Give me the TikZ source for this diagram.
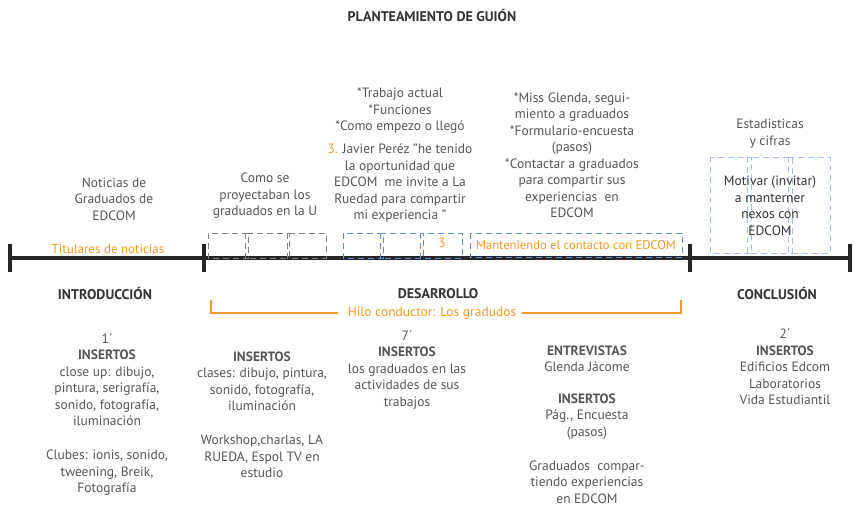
\documentclass[tikz,border=0pt]{standalone}
\usepackage{fontspec}
\setmainfont{PT Sans}
\usepackage{tikz}
\usetikzlibrary{calc}
\definecolor{textgray}{HTML}{555658}
\definecolor{naranja}{HTML}{F39A2B}
\definecolor{azul}{HTML}{5B8FD9}
\definecolor{azulclaro}{HTML}{A8C1E8}
\tikzset{eje/.style={line width=4.5pt, black!85}}
\tikzset{caja/.style={dash pattern=on 6pt off 4pt, line width=1pt}}
\tikzset{hilo line/.style={naranja, line width=1.3pt}}

\begin{document}
\begin{tikzpicture}[x=1pt, y=-1pt]
	% Default action for each node
	\tikzstyle{every node}=[inner sep=0pt, align=center, text=textgray, font=\fontsize{13.5}{16.5}\selectfont];
	\tikzstyle{seccion}=[text=black!80, font=\bfseries\fontsize{14}{16}\selectfont];
	\tikzstyle{resalte}=[text=naranja];

	\useasboundingbox (0,0) rectangle (854,506);

	\node[seccion] (titulo) at (432,16) {PLANTEAMIENTO DE GUIÓN};

	% Timeline
	\coordinate (t0) at (10,258);	\coordinate (t1) at (204,258);	\coordinate (t2) at (690,258);	\coordinate (t3) at (850,258);
	\draw[eje] (t0) -- (t3);
	\foreach \t in {t0,t1,t2,t3}
		\draw[eje] ([yshift=14pt]\t) -- ([yshift=-14pt]\t);

	% Dashed boxes
	\foreach \a/\b in {208/248, 245/289, 287/326}
		\draw[caja, black!50] (\a,233) rectangle (\b,258);
	\foreach \a/\b in {343/383, 380/423, 420/462}
		\draw[caja, azul] (\a,233) rectangle (\b,258);
	\draw[caja, azul] (470,233) rectangle (682,257);
	\foreach \a/\b in {710/751, 747/792, 788/830}
		\draw[caja, azulclaro] (\a,157) rectangle (\b,253);

	% Above the timeline
	\node (noticias) at (114,199) {Noticias de\\Graduados de\\EDCOM};
	\node (como) at (265,196) {Como se\\proyectaban los\\graduados en la U};
	\node (trabajo) at (400,111) {*Trabajo actual\\*Funciones\\*Como empezo o llegó};
	\node (javier) at (400,183) {{\color{naranja}3.} Javier Peréz "he tenido\\la oportunidad que\\EDCOM\ \ me invite a La\\Ruedad para compartir\\mi experiencia "};
	\node (glenda) at (572,155.5) {*Miss Glenda, segui-\\miento a graduados\\*Formulario-encuesta\\(pasos)\\*Contactar a graduados\\para compartir sus\\experiencias\ \ en\\EDCOM};
	\node (estadisticas) at (770,133.5) {Estadisticas\\y cifras};
	\node[text=black!80] (motivar) at (770,206) {Motivar (invitar)\\a manterner\\nexos con\\EDCOM};

	% On the timeline
	\node[resalte, font=\fontsize{13}{16}\selectfont] (titulares) at (108,249) {Titulares de noticias};
	\node[resalte] (tres) at (442,243) {3};
	\node[resalte, font=\fontsize{12.6}{16}\selectfont] (contacto) at (576,245) {Manteniendo el contacto con EDCOM};

	% Sections
	\node[seccion] (intro) at (105,294) {INTRODUCCIÓN};
	\node[seccion] (desarrollo) at (438,294) {DESARROLLO};
	\node[seccion] (conclusion) at (777,294) {CONCLUSIÓN};

	% Hilo conductor
	\coordinate (hiloL) at (211,300);	\node[resalte] (hilo) at (432,313) {Hilo conductor: Los gradudos};	\coordinate (hiloR) at (681,300);
	\draw[hilo line] (hiloL) |- ([xshift=-10pt]hilo.west);
	\draw[hilo line] (hiloR) |- ([xshift=6pt]hilo.east);

	% Below the timeline
	\node (insertos1) at (107,379.5) {1´\\\textbf{INSERTOS}\\close up: dibujo,\\pintura, serigrafía,\\sonido, fotografía,\\iluminación};
	\node (clubes) at (107,473) {Clubes: ionis, sonido,\\tweening, Breik,\\Fotografía};
	\node (insertos2) at (262,381.5) {\textbf{INSERTOS}\\clases: dibujo, pintura,\\sonido, fotografía,\\iluminación};
	\node (workshop) at (262,456.5) {Workshop,charlas, LA\\RUEDA, Espol TV en\\estudio};
	\node (insertos7) at (407,370) {7´\\\textbf{INSERTOS}\\los graduados en las\\actividades de sus\\trabajos};
	\node (entrevistas) at (587,359) {\textbf{ENTREVISTAS}\\Glenda Jácome};
	\node (insertospag) at (587,416.5) {\textbf{INSERTOS}\\Pág., Encuesta\\(pasos)};
	\node (compartiendo) at (587,482) {Graduados\ \ compar-\\tiendo experiencias\\en EDCOM};
	\node (insertos2c) at (785,367) {2´\\\textbf{INSERTOS}\\Edificios Edcom\\Laboratorios\\Vida Estudiantil};
\end{tikzpicture}
\end{document}
